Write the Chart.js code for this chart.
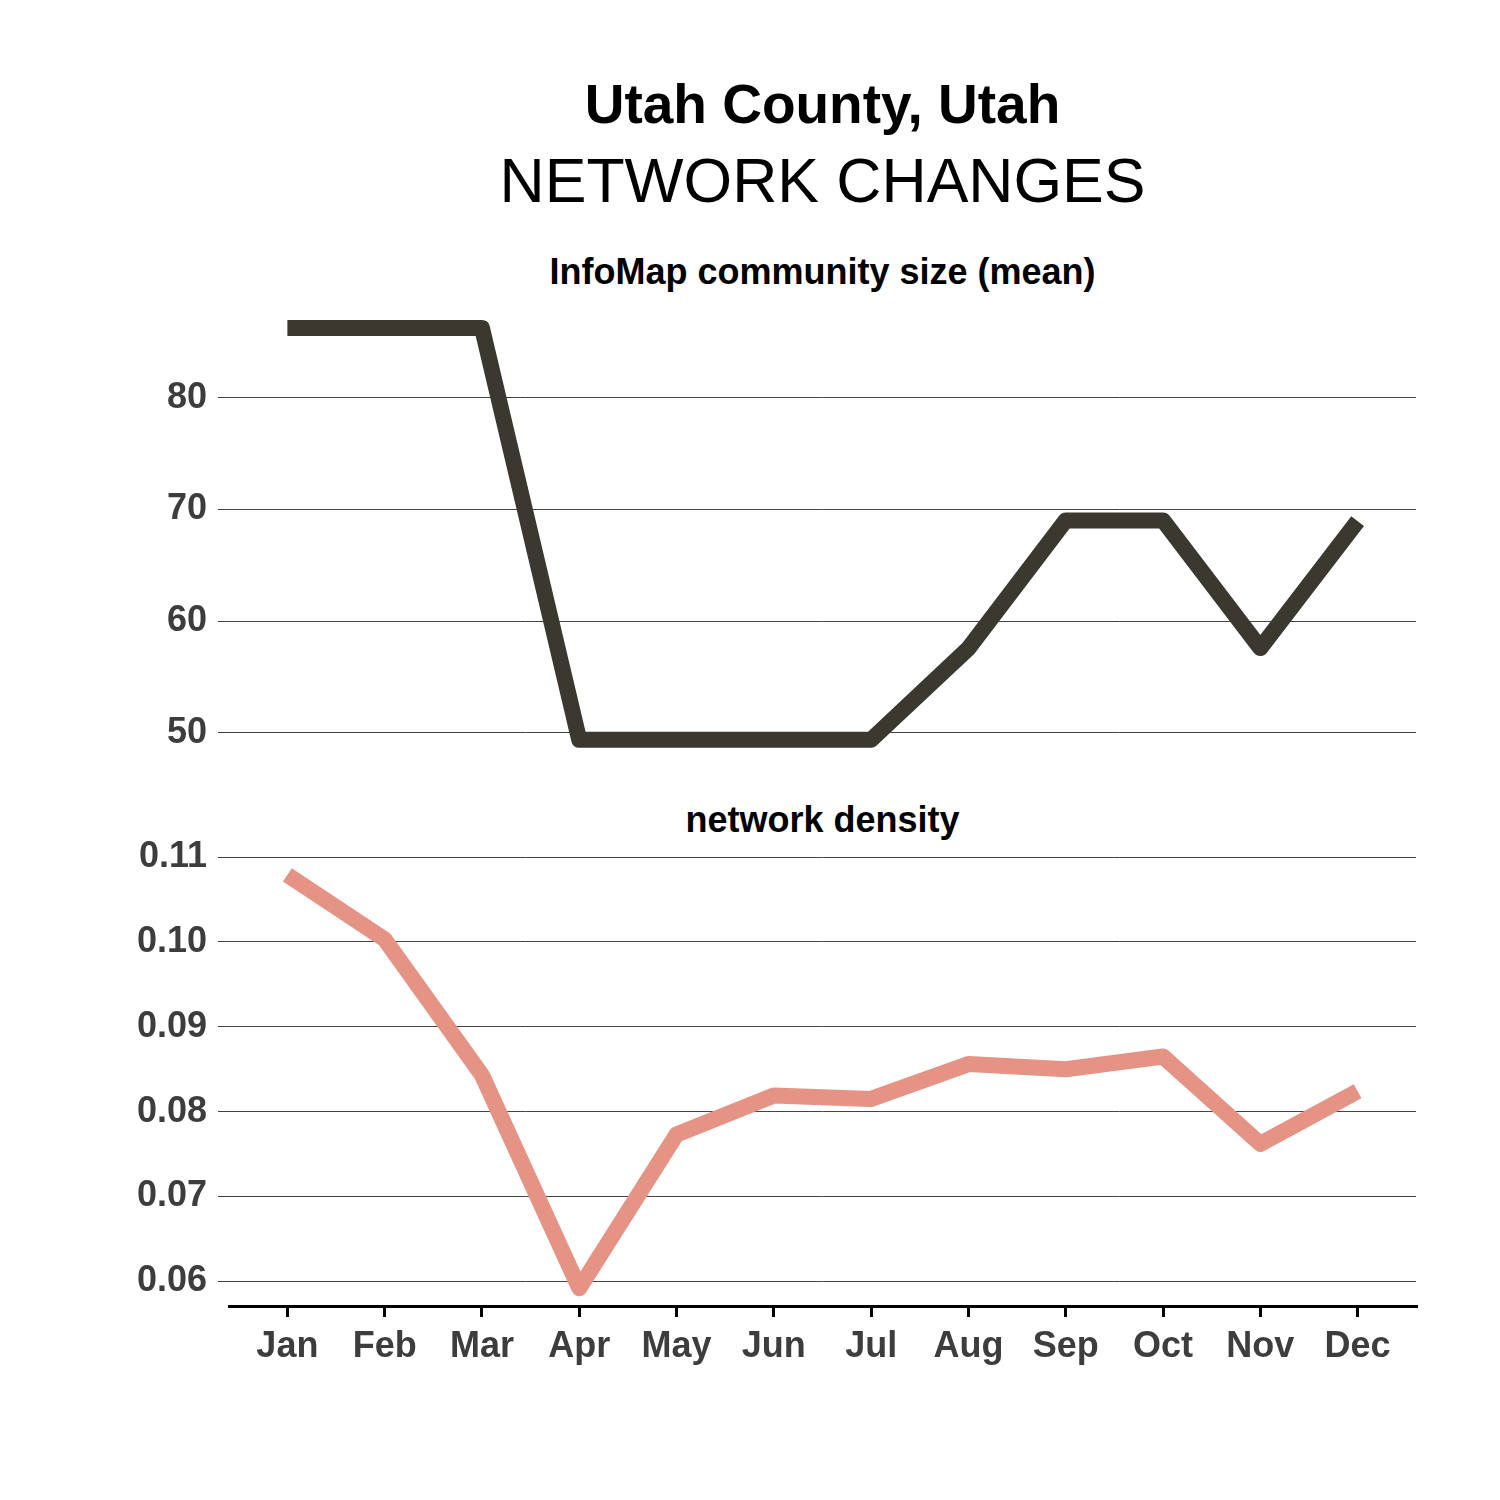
<!DOCTYPE html>
<html>
<head>
<meta charset="utf-8">
<script src="https://cdn.jsdelivr.net/npm/chart.js@4.4.1/dist/chart.umd.min.js"></script>
<style>
html,body{margin:0;padding:0;background:#fff;}
#wrap{position:relative;width:1500px;height:1500px;overflow:hidden;font-family:"Liberation Sans",Arial,Helvetica,sans-serif;background:#fff;}
.t{position:absolute;left:229px;width:1187px;text-align:center;line-height:1;white-space:nowrap;color:#000;margin:0;}
canvas{position:absolute;left:0;}
</style>
</head>
<body>
<div id="wrap">
  <div class="t" style="top:77px;font-size:55px;font-weight:bold;">Utah County, Utah</div>
  <div class="t" style="top:149px;font-size:62.5px;font-weight:normal;">NETWORK CHANGES</div>
  <div class="t" style="top:254px;font-size:36px;font-weight:bold;">InfoMap community size (mean)</div>
  <div class="t" style="top:802px;font-size:36px;font-weight:bold;">network density</div>
  <canvas id="c1" width="1500" height="490" style="top:290px;width:1500px;height:490px;"></canvas>
  <canvas id="c2" width="1500" height="560" style="top:840px;width:1500px;height:560px;"></canvas>
</div>
<script>
// ---- data ----
const months = ['Jan','Feb','Mar','Apr','May','Jun','Jul','Aug','Sep','Oct','Nov','Dec'];
const communitySize = [86.25, 86.25, 86.25, 49.37, 49.37, 49.37, 49.37, 57.55, 69.02, 69.02, 57.58, 68.95];
const density = [0.1079, 0.1003, 0.0843, 0.0592, 0.0773, 0.0819, 0.0815, 0.0856, 0.0850, 0.0865, 0.0762, 0.0824];
const topTicks = [50, 60, 70, 80];
const bottomTicks = [0.06, 0.07, 0.08, 0.09, 0.10, 0.11];

const FONT = "'Liberation Sans', Arial, Helvetica, sans-serif";
const TICK_COLOR = '#3d3d3d';
const GRID_COLOR = '#444444';

function yScale(min, max, ticks, fmt) {
  return {
    type: 'linear',
    min: min, max: max,
    afterBuildTicks: s => { s.ticks = ticks.map(v => ({ value: v })); },
    afterFit: s => { s.width = 229; s.paddingTop = 0; s.paddingBottom = 0; },
    border: { display: false },
    grid: { display: true, color: GRID_COLOR, lineWidth: 1, drawTicks: true, tickLength: 11, drawOnChartArea: true },
    ticks: {
      color: TICK_COLOR,
      padding: 11,
      font: { family: FONT, size: 36, weight: 'bold' },
      callback: fmt
    }
  };
}

function xScale(show) {
  return {
    type: 'linear',
    min: -0.6, max: 11.6,
    display: show,
    afterBuildTicks: s => { s.ticks = months.map((m, i) => ({ value: i })); },
    afterFit: s => { s.paddingLeft = 0; s.paddingRight = 0; if (show) s.height = 94; },
    border: { display: true, color: '#000', width: 3 },
    grid: { display: true, drawOnChartArea: false, drawTicks: true, tickLength: 11, color: '#000', lineWidth: 3 },
    ticks: {
      autoSkip: false, maxRotation: 0, minRotation: 0,
      padding: 8,
      color: TICK_COLOR,
      font: { family: FONT, size: 36, weight: 'bold' },
      callback: v => months[v]
    }
  };
}

const common = {
  responsive: false,
  animation: false,
  devicePixelRatio: 1,
  events: [],
  plugins: { legend: { display: false }, tooltip: { enabled: false }, title: { display: false } },
  elements: { point: { radius: 0 }, line: { tension: 0 } }
};

new Chart(document.getElementById('c1'), {
  type: 'line',
  data: {
    datasets: [{
      data: communitySize.map((v, i) => ({ x: i, y: v })),
      borderColor: '#3b3830',
      borderWidth: 16,
      borderCapStyle: 'butt',
      borderJoinStyle: 'round',
      pointRadius: 0,
      fill: false
    }]
  },
  options: Object.assign({}, common, {
    layout: { padding: { top: 18, bottom: 20, left: 0, right: 84 } },
    scales: {
      x: xScale(false),
      y: yScale(47.56, 88.04, topTicks, v => String(v))
    }
  })
});

new Chart(document.getElementById('c2'), {
  type: 'line',
  data: {
    datasets: [{
      data: density.map((v, i) => ({ x: i, y: v })),
      borderColor: '#e49384',
      borderWidth: 16,
      borderCapStyle: 'butt',
      borderJoinStyle: 'round',
      pointRadius: 0,
      fill: false
    }]
  },
  options: Object.assign({}, common, {
    layout: { padding: { top: 17, bottom: 0, left: 0, right: 84 } },
    scales: {
      x: xScale(true),
      y: yScale(0.0571, 0.1100, bottomTicks, v => Number(v).toFixed(2))
    }
  })
});
</script>
</body>
</html>
